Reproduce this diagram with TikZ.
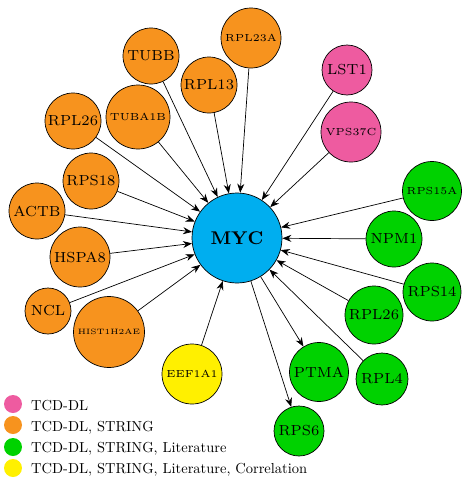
\documentclass[tikz,border=0pt]{standalone}
\usepackage{graphicx}
\usetikzlibrary{arrows.meta}
\definecolor{corange}{HTML}{F7931E}
\definecolor{cpink}{HTML}{EE5BA0}
\definecolor{cgreen}{HTML}{00D200}
\definecolor{cyellow}{HTML}{FFF000}
\definecolor{ccyan}{HTML}{00AEEF}
\newcommand{\nA}[1]{\scalebox{2.08}{\fontsize{7}{8}\selectfont #1}}
\newcommand{\nB}[1]{\scalebox{2.05}{\fontsize{5}{6}\selectfont #1}}
\newcommand{\nC}[1]{\scalebox{1.68}[1.55]{\fontsize{5}{6}\selectfont #1}}
\newcommand{\nM}[1]{\scalebox{2.05}{\fontsize{9}{10}\selectfont\bfseries #1}}
\newcommand{\nL}[1]{\scalebox{1.45}{\fontsize{10}{12}\selectfont #1}}
\begin{document}
\begin{tikzpicture}[x=1pt,y=-1pt,
  gene/.style={circle,draw=black,line width=0.7pt,inner sep=0pt,minimum size=#1},
  og/.style={gene=#1,fill=corange},
  pk/.style={gene=#1,fill=cpink},
  gr/.style={gene=#1,fill=cgreen},
  yl/.style={gene=#1,fill=cyellow},
  arr/.style={-{Stealth[length=9pt,width=7pt]},line width=0.7pt},
  legdot/.style={circle,inner sep=0pt,minimum size=18pt},
  legtxt/.style={anchor=base west,inner sep=0pt}]
\useasboundingbox (0,0) rectangle (462,479);
% hub
\node[gene=90pt,fill=ccyan] (myc) at (237,238) {\nM{MYC}};
% orange
\node[og=56pt] (tubb) at (151,56) {\nA{TUBB}};
\node[og=56pt] (rpl13) at (209,85) {\nA{RPL13}};
\node[og=60pt] (rpl23a) at (251,38) {\nB{RPL23A}};
\node[og=64pt] (tuba1b) at (138,117) {\nB{TUBA1B}};
\node[og=56pt] (rpl26a) at (73,121) {\nA{RPL26}};
\node[og=56pt] (rps18) at (91,181) {\nA{RPS18}};
\node[og=56pt] (actb) at (37,211) {\nA{ACTB}};
\node[og=60pt] (hspa8) at (80,257) {\nA{HSPA8}};
\node[og=46pt] (ncl) at (48,311) {\nA{NCL}};
\node[og=71pt] (hist) at (109,332) {\nC{HIST1H2AE}};
% yellow
\node[yl=60pt] (eef) at (192,374) {\nB{EEF1A1}};
% pink
\node[pk=50pt] (lst1) at (347,70) {\nA{LST1}};
\node[pk=60pt] (vps) at (351,132) {\nB{VPS37C}};
% green
\node[gr=59pt] (rps15a) at (432,191) {\nB{RPS15A}};
\node[gr=56pt] (npm1) at (394,239) {\nA{NPM1}};
\node[gr=58pt] (rps14) at (432,292) {\nA{RPS14}};
\node[gr=58pt] (rpl26b) at (374,315) {\nA{RPL26}};
\node[gr=59pt] (ptma) at (319,372) {\nA{PTMA}};
\node[gr=52pt] (rpl4) at (382,379) {\nA{RPL4}};
\node[gr=50pt] (rps6) at (299,431) {\nA{RPS6}};
% connectors
\foreach \n in {tubb,rpl13,rpl23a,tuba1b,rpl26a,rps18,actb,hspa8,ncl,hist,eef,lst1,vps,rps15a,npm1,rps14,rpl26b,rpl4}
  \draw[arr] (\n) -- (myc);
\draw[arr] (myc) -- (ptma);
\draw[arr] (myc) -- (rps6);
% legend
\node[legdot,fill=cpink] (d1) at (13,404) {};
\node[legdot,fill=corange] (d2) at (13,425) {};
\node[legdot,fill=cgreen] (d3) at (13,447) {};
\node[legdot,fill=cyellow] (d4) at (13,468) {};
\node[legtxt] (t1) at (31,410) {\nL{TCD-DL}};
\node[legtxt] (t2) at (31,431) {\nL{TCD-DL, STRING}};
\node[legtxt] (t3) at (31,452) {\nL{TCD-DL, STRING, Literature}};
\node[legtxt] (t4) at (31,473) {\nL{TCD-DL, STRING, Literature, Correlation}};
\end{tikzpicture}
\end{document}
